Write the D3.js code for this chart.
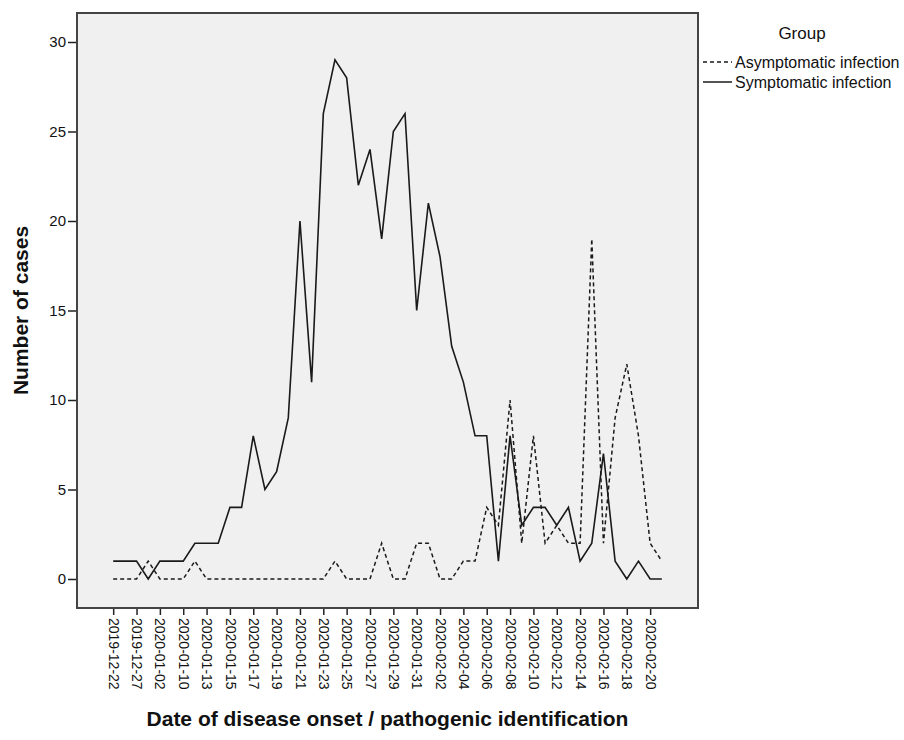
<!DOCTYPE html>
<html>
<head>
<meta charset="utf-8">
<script src="https://cdn.jsdelivr.net/npm/d3@7"></script>
<style>
  body { margin: 0; background: #ffffff; }
  svg { font-family: "Liberation Sans", Arial, sans-serif; }
</style>
</head>
<body>
<svg id="chart"></svg>
<script>
// Onset dates (one category per reported day)
const dates = [
    "2019-12-22", "2019-12-25", "2019-12-27", "2019-12-30", "2020-01-02", "2020-01-06",
    "2020-01-10", "2020-01-12", "2020-01-13", "2020-01-14", "2020-01-15", "2020-01-16",
    "2020-01-17", "2020-01-18", "2020-01-19", "2020-01-20", "2020-01-21", "2020-01-22",
    "2020-01-23", "2020-01-24", "2020-01-25", "2020-01-26", "2020-01-27", "2020-01-28",
    "2020-01-29", "2020-01-30", "2020-01-31", "2020-02-01", "2020-02-02", "2020-02-03",
    "2020-02-04", "2020-02-05", "2020-02-06", "2020-02-07", "2020-02-08", "2020-02-09",
    "2020-02-10", "2020-02-11", "2020-02-12", "2020-02-13", "2020-02-14", "2020-02-15",
    "2020-02-16", "2020-02-17", "2020-02-18", "2020-02-19", "2020-02-20", "2020-02-21"
];

const asymptomatic = [
    0, 0, 0, 1, 0, 0, 0, 1, 0, 0,
    0, 0, 0, 0, 0, 0, 0, 0, 0, 1,
    0, 0, 0, 2, 0, 0, 2, 2, 0, 0,
    1, 1, 4, 3, 10, 2, 8, 2, 3, 2,
    2, 19, 2, 9, 12, 8, 2, 1
];

const symptomatic = [
    1, 1, 1, 0, 1, 1, 1, 2, 2, 2,
    4, 4, 8, 5, 6, 9, 20, 11, 26, 29,
    28, 22, 24, 19, 25, 26, 15, 21, 18, 13,
    11, 8, 8, 1, 8, 3, 4, 4, 3, 4,
    1, 2, 7, 1, 0, 1, 0, 0
];

const yTicks = [0, 5, 10, 15, 20, 25, 30];
const groups = ["Asymptomatic infection", "Symptomatic infection"];

// Dimensions of the plot frame
const margin = { top: 13, right: 206, bottom: 132, left: 77 };
const width = 904 - margin.left - margin.right;
const height = 740 - margin.top - margin.bottom;

const root = d3.select("#chart")
    .attr("width", 904)
    .attr("height", 740);

const svg = root.append("g")
    .attr("transform", "translate(" + margin.left + "," + margin.top + ")");

// Scales
const x = d3.scalePoint().domain(dates).range([0, width]).padding(3.1);
const y = d3.scaleLinear().domain([-1.62, 31.62]).range([height, 0]);

// Grey plot background
svg.append("rect")
    .attr("width", width)
    .attr("height", height)
    .attr("fill", "#f0f0f0");

// Axes (only every other date gets a label)
const xAxis = svg.append("g")
    .attr("transform", "translate(0," + height + ")")
    .call(d3.axisBottom(x)
        .tickValues(dates.filter((d, i) => i % 2 === 0))
        .tickSize(7)
        .tickPadding(3));
xAxis.select(".domain").remove();
xAxis.selectAll("line").attr("stroke", "#222").attr("stroke-width", 1.5);
xAxis.selectAll("text")
    .attr("transform", "rotate(90)")
    .attr("x", 10)
    .attr("y", 0)
    .attr("dy", "0.35em")
    .style("text-anchor", "start")
    .style("font-size", "14px")
    .attr("fill", "#111");

const yAxis = svg.append("g")
    .call(d3.axisLeft(y).tickValues(yTicks).tickSize(9).tickPadding(2));
yAxis.select(".domain").remove();
yAxis.selectAll("line").attr("stroke", "#222").attr("stroke-width", 1.5);
yAxis.selectAll("text")
    .style("font-size", "15px")
    .attr("fill", "#111");

// Lines
const line = d3.line()
    .x((d, i) => x(dates[i]))
    .y(d => y(d));

svg.append("path")
    .datum(asymptomatic)
    .attr("fill", "none")
    .attr("stroke", "#1a1a1a")
    .attr("stroke-width", 1.5)
    .attr("stroke-dasharray", "4,3")
    .attr("d", line);

svg.append("path")
    .datum(symptomatic)
    .attr("fill", "none")
    .attr("stroke", "#1a1a1a")
    .attr("stroke-width", 1.6)
    .attr("d", line);

// Frame around the plot
svg.append("rect")
    .attr("width", width)
    .attr("height", height)
    .attr("fill", "none")
    .attr("stroke", "#444")
    .attr("stroke-width", 2);

// Axis titles
root.append("text")
    .attr("x", margin.left + width / 2)
    .attr("y", 726)
    .attr("text-anchor", "middle")
    .style("font-size", "21px")
    .style("font-weight", "bold")
    .attr("fill", "#111")
    .text("Date of disease onset / pathogenic identification");

root.append("text")
    .attr("transform", "translate(28," + (margin.top + height / 2) + ") rotate(-90)")
    .attr("text-anchor", "middle")
    .style("font-size", "21px")
    .style("font-weight", "bold")
    .attr("fill", "#111")
    .text("Number of cases");

// Legend
const legend = root.append("g");

legend.append("text")
    .attr("x", 802)
    .attr("y", 39)
    .attr("text-anchor", "middle")
    .style("font-size", "17px")
    .attr("fill", "#111")
    .text("Group");

groups.forEach((g, i) => {
    const ly = 62 + i * 20;
    legend.append("line")
        .attr("x1", 703)
        .attr("x2", 732)
        .attr("y1", ly)
        .attr("y2", ly)
        .attr("stroke", "#1a1a1a")
        .attr("stroke-width", 1.5)
        .attr("stroke-dasharray", i === 0 ? "4,3" : null);
    legend.append("text")
        .attr("x", 735)
        .attr("y", ly)
        .attr("dy", "0.35em")
        .style("font-size", "16px")
        .attr("fill", "#111")
        .text(g);
});
</script>
</body>
</html>
